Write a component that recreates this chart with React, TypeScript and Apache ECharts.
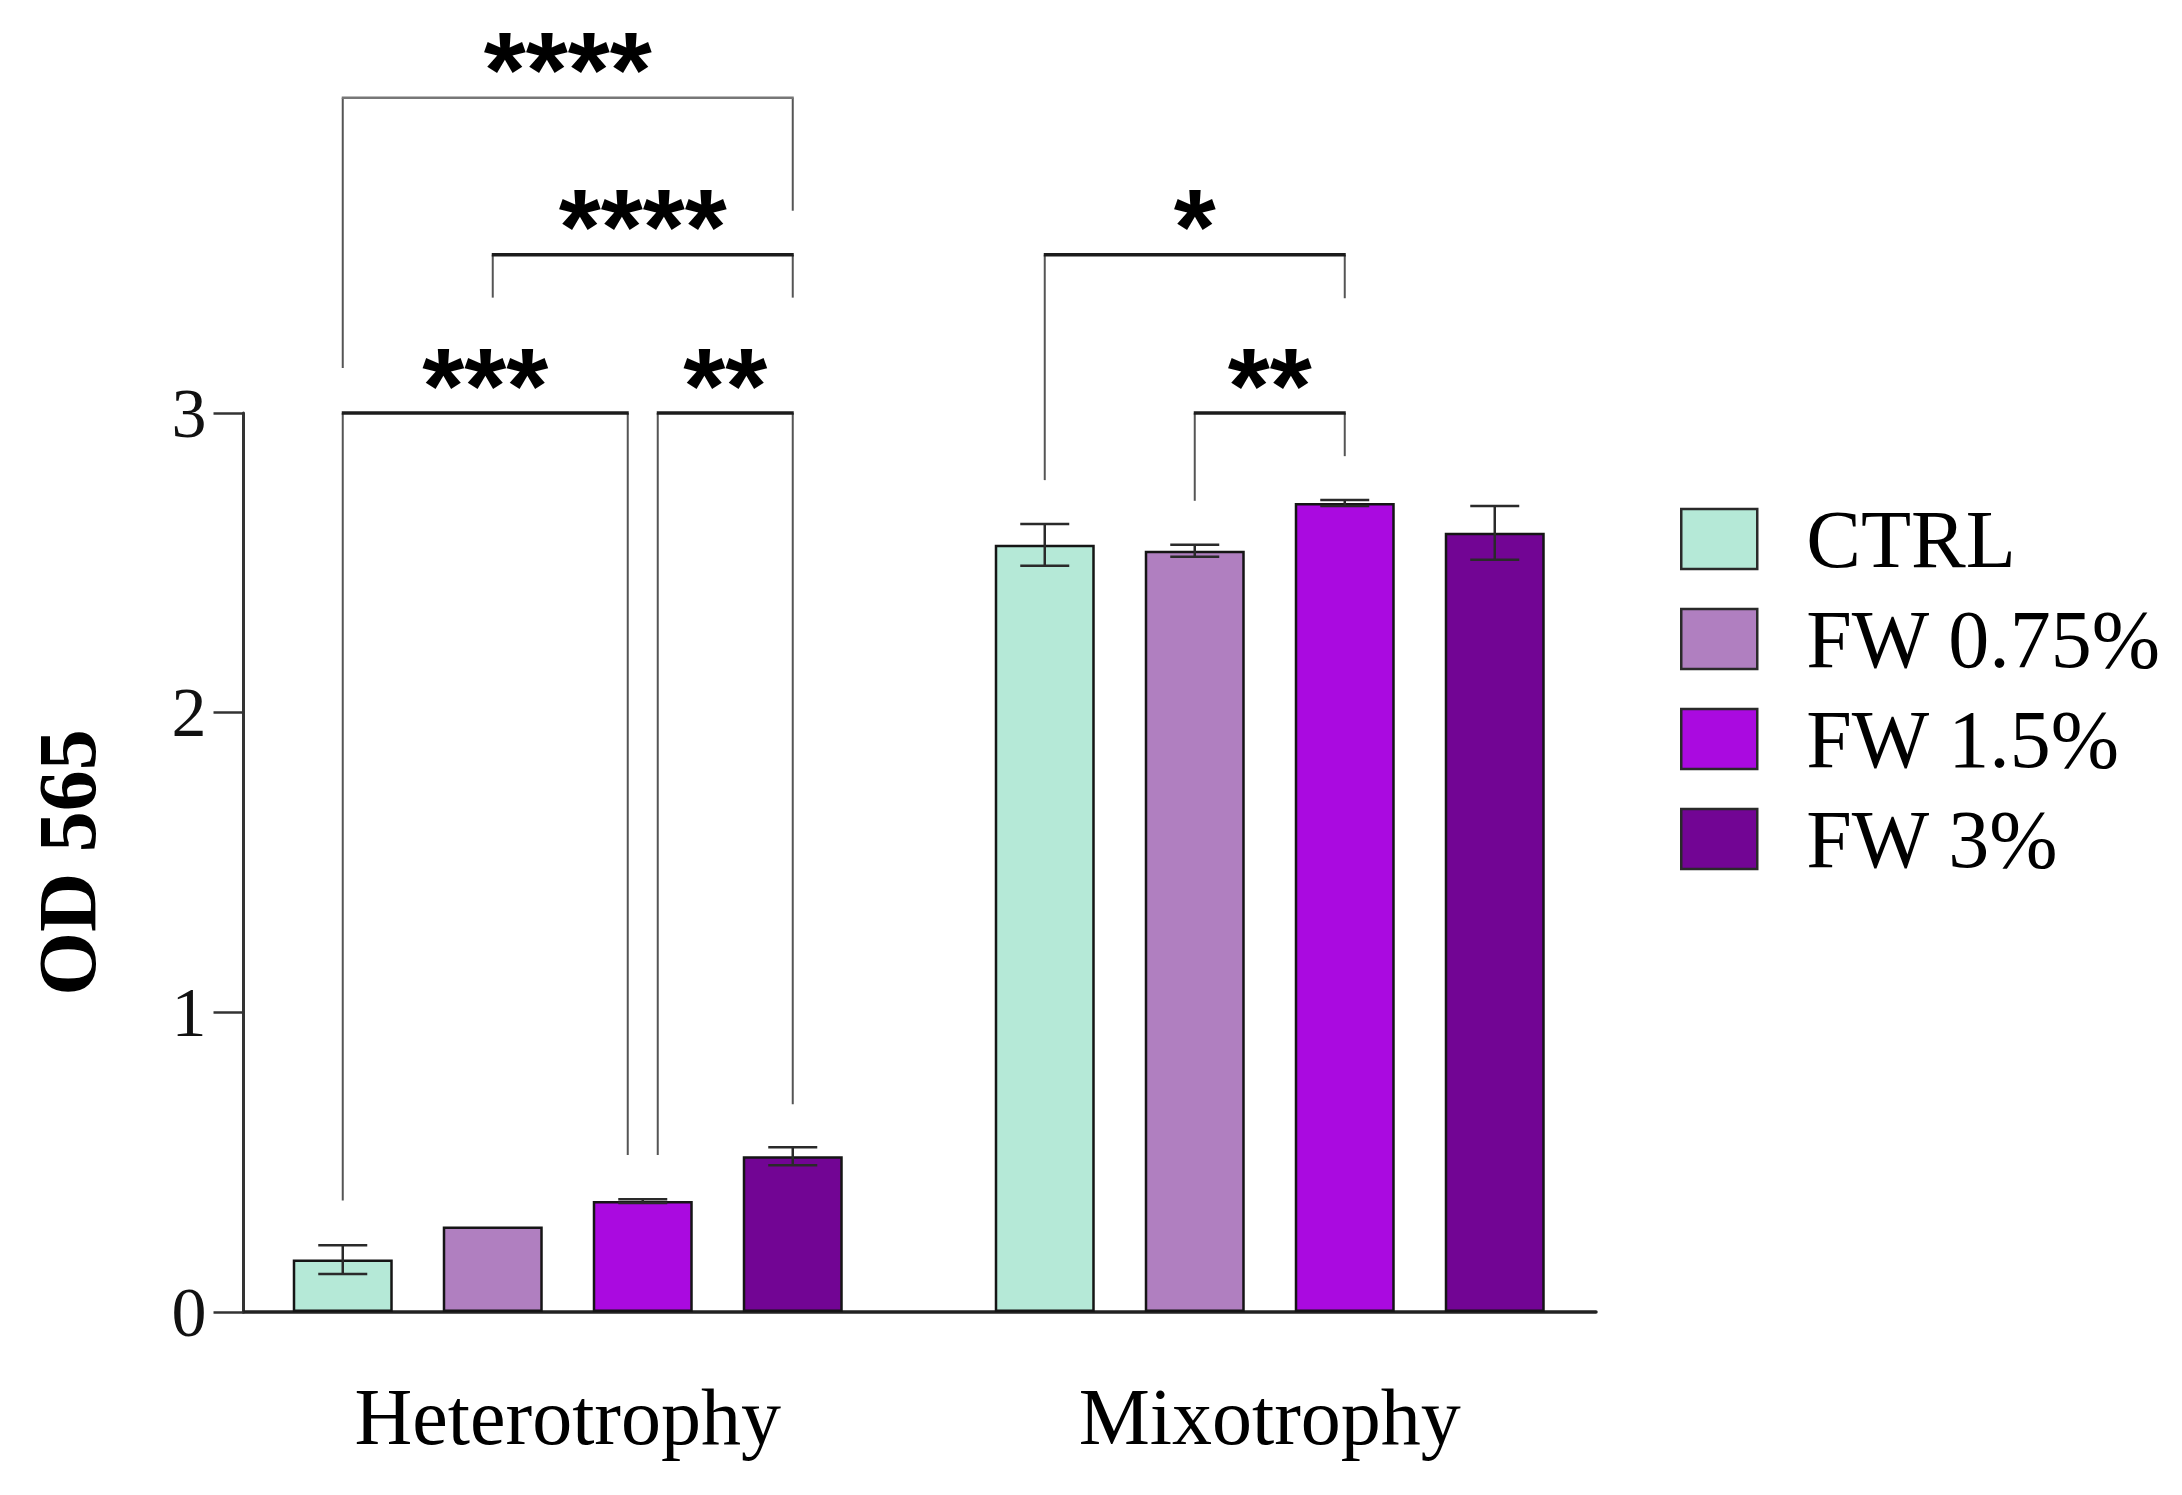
import { useEffect, useRef } from 'react';
import * as echarts from 'echarts';

// categories and treatments
const GROUPS = ['Heterotrophy', 'Mixotrophy'];
const TREATMENTS = ['CTRL', 'FW 0.75%', 'FW 1.5%', 'FW 3%'];
const COLORS = ['#B5E9D7', '#B07FC0', '#AA0AE0', '#720594'];

// OD 565 means and SD, [Heterotrophy, Mixotrophy]
const CTRL_MEAN = [0.175, 2.56];
const CTRL_SD = [0.048, 0.07];
const FW075_MEAN = [0.285, 2.54];
const FW075_SD = [0, 0.02];
const FW15_MEAN = [0.37, 2.7];
const FW15_SD = [0.006, 0.01];
const FW3_MEAN = [0.52, 2.6];
const FW3_SD = [0.03, 0.09];

const MEANS = [CTRL_MEAN, FW075_MEAN, FW15_MEAN, FW3_MEAN];
const SDS = [CTRL_SD, FW075_SD, FW15_SD, FW3_SD];

// y axis
const Y_MIN = 0;
const Y_MAX = 3;
const Y_STEP = 1;

// significance brackets: from/to are treatment indexes, heights in OD units
const BRACKETS = [
  { group: 0, from: 0, to: 3, y: 4.052, leftEnd: 3.15, rightEnd: 3.675, label: '****' },
  { group: 0, from: 1, to: 3, y: 3.528, leftEnd: 3.385, rightEnd: 3.385, label: '****' },
  { group: 0, from: 0, to: 2, y: 3.0, leftEnd: 0.372, rightEnd: 0.524, label: '***' },
  { group: 0, from: 2, to: 3, y: 3.0, leftEnd: 0.524, rightEnd: 0.693, label: '**' },
  { group: 1, from: 0, to: 2, y: 3.528, leftEnd: 2.776, rightEnd: 3.383, label: '*' },
  { group: 1, from: 1, to: 2, y: 3.0, leftEnd: 2.707, rightEnd: 2.856, label: '**' },
];

const SERIF = '"Liberation Serif", "Times New Roman", serif';
const BAR_WIDTH = 100;
const BAR_GAP = 0.5;
const SLOT = BAR_WIDTH * (1 + BAR_GAP);
const CAP = 49;
const NUDGE = 15;
const LABEL_LIFT = 28;

const slotOffset = (s: number) => (s - (TREATMENTS.length - 1) / 2) * SLOT;

export default function App() {
  const ref = useRef<HTMLDivElement>(null);

  useEffect(() => {
    if (!ref.current) {
      return undefined;
    }
    document.body.style.margin = '0';

    const chart = echarts.init(ref.current, undefined, { renderer: 'svg' });
    const topLevel = Math.max(...BRACKETS.map((b) => b.y));

    const barSeries = TREATMENTS.map((name, s) => ({
      name,
      type: 'bar',
      xAxisIndex: 0,
      yAxisIndex: 0,
      barWidth: BAR_WIDTH,
      barGap: `${BAR_GAP * 100}%`,
      data: MEANS[s],
      itemStyle: { color: COLORS[s], borderColor: '#151515', borderWidth: 2.5 },
    }));

    const errorSeries = TREATMENTS.map((_, s) => ({
      type: 'custom',
      xAxisIndex: 0,
      yAxisIndex: 0,
      z: 4,
      clip: false,
      silent: true,
      data: GROUPS.map((__, g) => [g, MEANS[s][g], SDS[s][g]]),
      renderItem: (_params: any, api: any) => {
        const g = api.value(0);
        const m = api.value(1);
        const sd = api.value(2);
        if (!(sd > 0)) return { type: 'group', children: [] };
        const x = api.coord([g, m])[0] + slotOffset(s);
        const yt = api.coord([g, m + sd])[1];
        const yb = api.coord([g, m - sd])[1];
        const h = CAP / 2;
        const st = { stroke: '#2a2a2a', lineWidth: 2.5 };
        return {
          type: 'group',
          children: [
            { type: 'line', shape: { x1: x, y1: yt, x2: x, y2: yb }, style: st },
            { type: 'line', shape: { x1: x - h, y1: yt, x2: x + h, y2: yt }, style: st },
            { type: 'line', shape: { x1: x - h, y1: yb, x2: x + h, y2: yb }, style: st },
          ],
        };
      },
    }));

    const bracketSeries = {
      type: 'custom',
      xAxisIndex: 0,
      yAxisIndex: 0,
      z: 5,
      clip: false,
      silent: true,
      data: BRACKETS.map((b) => [b.group, b.y]),
      renderItem: (params: any, api: any) => {
        const b = BRACKETS[params.dataIndex];
        const cx = api.coord([b.group, 0])[0];
        let xl = cx + slotOffset(b.from);
        let xr = cx + slotOffset(b.to);
        if (BRACKETS.some((o) => o !== b && o.group === b.group && o.y === b.y && o.to === b.from)) xl += NUDGE;
        if (BRACKETS.some((o) => o !== b && o.group === b.group && o.y === b.y && o.from === b.to)) xr -= NUDGE;
        const y = api.coord([b.group, b.y])[1];
        const yl = api.coord([b.group, b.leftEnd])[1];
        const yr = api.coord([b.group, b.rightEnd])[1];
        const leg = { stroke: '#555', lineWidth: 2 };
        const bar = b.y === topLevel ? { stroke: '#777', lineWidth: 2.5 } : { stroke: '#1c1c1c', lineWidth: 3.5 };
        return {
          type: 'group',
          children: [
            { type: 'line', shape: { x1: xl, y1: yl, x2: xl, y2: y }, style: leg },
            { type: 'line', shape: { x1: xr, y1: yr, x2: xr, y2: y }, style: leg },
            { type: 'line', shape: { x1: xl - 1, y1: y, x2: xr + 1, y2: y }, style: bar },
            {
              type: 'text',
              style: {
                text: b.label,
                x: (xl + xr) / 2,
                y: y - LABEL_LIFT,
                align: 'center',
                verticalAlign: 'middle',
                font: 'bold 108px "Liberation Sans", Arial, sans-serif',
                fill: '#000',
              },
            },
          ],
        };
      },
    };

    const option: any = {
      animation: false,
      backgroundColor: '#ffffff',
      grid: [
        { left: 216.75, right: 561.25, top: 413, bottom: 183 },
        { left: 243.5, right: 586, top: 413, bottom: 183 },
      ],
      legend: {
        data: TREATMENTS,
        orient: 'vertical',
        left: 1680,
        top: 498,
        padding: 0,
        itemWidth: 76,
        itemHeight: 60,
        itemGap: 18,
        icon: 'rect',
        selectedMode: false,
        itemStyle: { borderColor: '#2a2a2a', borderWidth: 2.5 },
        textStyle: {
          fontFamily: SERIF,
          fontSize: 82,
          color: '#000',
          padding: [0, 0, 0, 44],
        },
      },
      xAxis: [
        {
          type: 'category',
          gridIndex: 0,
          data: GROUPS,
          axisLine: { show: false },
          axisTick: { show: false },
          axisLabel: { fontFamily: SERIF, fontSize: 80, color: '#000', margin: 65 },
          splitLine: { show: false },
        },
        {
          type: 'value',
          gridIndex: 1,
          min: 0,
          max: 1,
          axisLine: { show: true, lineStyle: { color: '#222', width: 3.5 } },
          axisTick: { show: false },
          axisLabel: { show: false },
          splitLine: { show: false },
        },
      ],
      yAxis: [
        {
          type: 'value',
          gridIndex: 0,
          min: Y_MIN,
          max: Y_MAX,
          interval: Y_STEP,
          show: false,
        },
        {
          type: 'value',
          gridIndex: 1,
          min: Y_MIN,
          max: Y_MAX,
          interval: Y_STEP,
          name: 'OD 565',
          nameLocation: 'middle',
          nameRotate: 90,
          nameGap: 135,
          nameTextStyle: { fontFamily: SERIF, fontSize: 82, fontWeight: 'bold', color: '#000' },
          axisLine: { show: true, lineStyle: { color: '#333', width: 3 } },
          axisTick: { show: true, length: 30, lineStyle: { color: '#333', width: 2.5 } },
          axisLabel: { fontFamily: SERIF, fontSize: 70, color: '#111', margin: 37 },
          splitLine: { show: false },
        },
      ],
      series: [...barSeries, ...errorSeries, bracketSeries],
    };

    chart.setOption(option);
    const resize = () => chart.resize();
    window.addEventListener('resize', resize);

    return () => {
      window.removeEventListener('resize', resize);
      chart.dispose();
    };
  }, []);

  return <div ref={ref} style={{ width: 2182, height: 1495 }} />;
}
